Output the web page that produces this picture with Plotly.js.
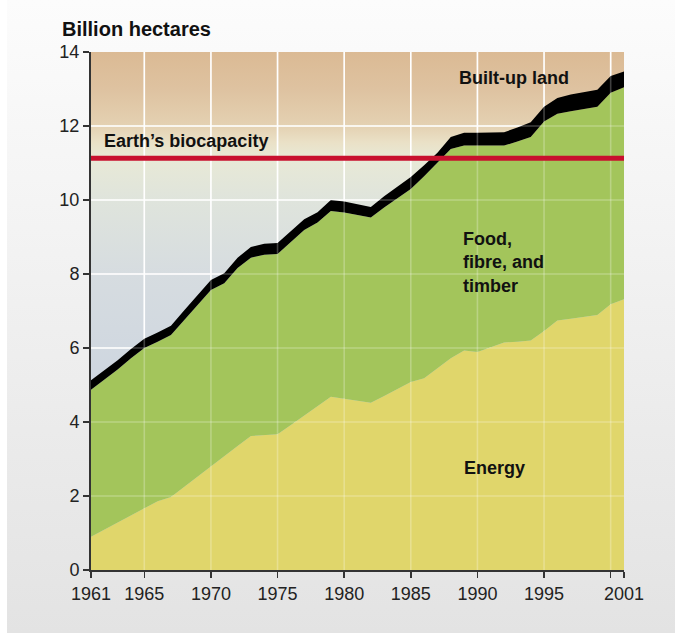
<!DOCTYPE html>
<html><head><meta charset="utf-8">
<script src="https://cdn.plot.ly/plotly-3.0.1.min.js"></script>
<style>
html,body{margin:0;padding:0;background:#fff;}
#bg{position:absolute;left:7px;top:0;width:668px;height:633px;background:linear-gradient(#fcfcfc,#e3e3e3);}
#chart{position:absolute;left:0;top:0;width:675px;height:635px;}
</style></head><body>
<div id="bg"></div><div id="chart"></div>
<script>
// ---- data (billion hectares) ----
const years = [1961,1962,1963,1964,1965,1966,1967,1968,1969,1970,
               1971,1972,1973,1974,1975,1976,1977,1978,1979,1980,
               1981,1982,1983,1984,1985,1986,1987,1988,1989,1990,
               1991,1992,1993,1994,1995,1996,1997,1998,1999,2000,2001];
const energy = [0.90,1.09,1.28,1.47,1.67,1.86,1.97,2.25,2.52,2.80,
                3.07,3.35,3.62,3.64,3.67,3.92,4.17,4.42,4.68,4.63,
                4.58,4.52,4.70,4.90,5.08,5.18,5.45,5.72,5.93,5.89,
                6.02,6.15,6.17,6.20,6.46,6.74,6.79,6.84,6.89,7.18,7.32];
const food = [3.97,4.05,4.14,4.25,4.33,4.31,4.38,4.51,4.64,4.77,
              4.68,4.81,4.82,4.88,4.87,4.94,5.02,4.97,5.02,5.03,
              5.02,5.01,5.10,5.15,5.22,5.46,5.55,5.66,5.54,5.58,
              5.45,5.32,5.41,5.50,5.66,5.59,5.61,5.61,5.63,5.72,5.73];
const builtUp = [0.26,0.25,0.25,0.25,0.25,0.25,0.25,0.26,0.26,0.27,
                 0.27,0.28,0.29,0.30,0.30,0.30,0.29,0.28,0.30,0.30,
                 0.29,0.28,0.30,0.32,0.32,0.30,0.28,0.32,0.35,0.35,
                 0.35,0.36,0.38,0.40,0.40,0.43,0.45,0.46,0.46,0.45,0.42];
const biocapacity = 11.13;
const xTickVals = [1961,1965,1970,1975,1980,1985,1990,1995,2000,2001];
const xTickText = ['1961','1965','1970','1975','1980','1985','1990','1995','','2001'];
const yTickVals = [0,2,4,6,8,10,12,14];
const gridX = [1965,1970,1975,1980,1985,1990,1995,2000];
const gridY = [2,4,6,8,10,12];

const sans = 'Liberation Sans, Arial, sans-serif';

const traces = [
  {x: years, y: energy, name: 'Energy', type: 'scatter', mode: 'lines', stackgroup: 'one',
   line: {width: 0, color: '#e0d66b'}, fillcolor: '#e0d66b', hoverinfo: 'skip'},
  {x: years, y: food, name: 'Food, fibre, and timber', type: 'scatter', mode: 'lines', stackgroup: 'one',
   line: {width: 0, color: '#a3c55b'}, fillcolor: '#a3c55b', hoverinfo: 'skip'},
  {x: years, y: builtUp, name: 'Built-up land', type: 'scatter', mode: 'lines', stackgroup: 'one',
   line: {width: 0, color: '#000'}, fillcolor: '#000', hoverinfo: 'skip'}
];

const stops = [[0,'#dbba94'],[0.07,'#dec2a0'],[0.143,'#e4d1b2'],[0.175,'#eae1c7'],
               [0.205,'#e8e9d6'],[0.286,'#dfe4dc'],[0.43,'#d6dce0'],[0.64,'#ced6e0'],[1,'#cad3df']];
const svg = "<svg xmlns='http://www.w3.org/2000/svg' width='100' height='100' viewBox='0 0 100 100' preserveAspectRatio='none'>" +
  "<defs><linearGradient id='g' x1='0' y1='0' x2='0' y2='1'>" +
  stops.map(s => "<stop offset='" + s[0] + "' stop-color='" + s[1] + "'/>").join('') +
  "</linearGradient></defs><rect width='100' height='100' fill='url(#g)'/></svg>";
const bgImg = 'data:image/svg+xml;charset=utf-8,' + encodeURIComponent(svg);

const shapes = [];
gridX.forEach(v => shapes.push({type:'line', layer:'between', xref:'x', yref:'paper', x0:v, x1:v, y0:0, y1:1,
  line:{color:'#ffffff', width:1.6}}));
gridY.forEach(v => shapes.push({type:'line', layer:'between', xref:'paper', yref:'y', x0:0, x1:1, y0:v, y1:v,
  line:{color:'#ffffff', width:1.6}}));
gridX.forEach(v => shapes.push({type:'line', layer:'above', xref:'x', yref:'paper', x0:v, x1:v, y0:0, y1:1,
  line:{color:'rgba(255,255,255,0.25)', width:1.6}}));
gridY.forEach(v => shapes.push({type:'line', layer:'above', xref:'paper', yref:'y', x0:0, x1:1, y0:v, y1:v,
  line:{color:'rgba(255,255,255,0.25)', width:1.6}}));
shapes.push({type:'line', layer:'above', xref:'paper', yref:'y', x0:0, x1:1, y0:biocapacity, y1:biocapacity,
  line:{color:'#c8102e', width:5}});

const lblFont = {family: sans, size: 18, color: '#111', weight: 'bold'};

const layout = {
  width: 675, height: 635,
  margin: {l: 91, r: 51, t: 52, b: 65, pad: 0},
  paper_bgcolor: 'rgba(0,0,0,0)', plot_bgcolor: 'rgba(0,0,0,0)',
  showlegend: false,
  xaxis: {range: [1961, 2001], tickvals: xTickVals, ticktext: xTickText,
          ticks: 'outside', ticklen: 6, tickwidth: 1.5, tickcolor: '#333',
          showline: true, linecolor: '#333', linewidth: 2, showgrid: false, zeroline: false,
          layer: 'above traces',
          tickfont: {family: sans, size: 18, color: '#222'}},
  yaxis: {range: [0, 14], tickvals: yTickVals,
          ticks: 'outside', ticklen: 6, tickwidth: 1.5, tickcolor: '#333',
          showline: true, linecolor: '#333', linewidth: 2, showgrid: false, zeroline: false,
          layer: 'above traces',
          tickfont: {family: sans, size: 18, color: '#222'}},
  images: [{source: bgImg, xref: 'paper', yref: 'paper', x: 0, y: 1, sizex: 1, sizey: 1,
            sizing: 'stretch', xanchor: 'left', yanchor: 'top', layer: 'below'}],
  shapes: shapes,
  annotations: [
    {text: 'Billion hectares', xref: 'paper', yref: 'paper', x: -0.058, y: 1.045,
     xanchor: 'left', yanchor: 'middle', showarrow: false, font: {family: sans, size: 20, color: '#111', weight: 'bold'}},
    {text: 'Earth\u2019s biocapacity', xref: 'x', yref: 'y', x: 1961.85, y: 11.6,
     xanchor: 'left', yanchor: 'middle', showarrow: false, font: lblFont},
    {text: 'Built-up land', xref: 'x', yref: 'y', x: 1988.5, y: 13.3,
     xanchor: 'left', yanchor: 'middle', showarrow: false, font: lblFont},
    {text: 'Food,<br>fibre, and<br>timber', xref: 'x', yref: 'y', x: 1988.75, y: 8.3,
     xanchor: 'left', yanchor: 'middle', align: 'left', showarrow: false, font: lblFont},
    {text: 'Energy', xref: 'x', yref: 'y', x: 1988.85, y: 2.75,
     xanchor: 'left', yanchor: 'middle', showarrow: false, font: lblFont}
  ]
};

Plotly.newPlot('chart', traces, layout, {displayModeBar: false, staticPlot: true});
</script>
</body></html>
